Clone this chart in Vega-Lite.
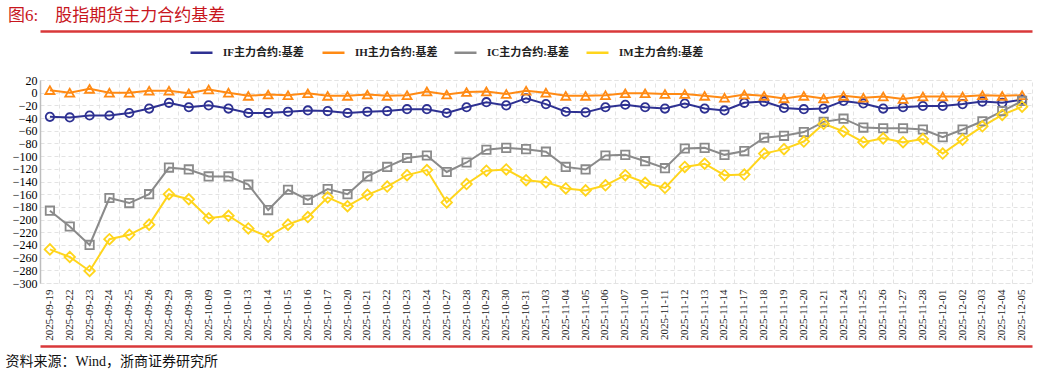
{
  "$schema": "https://vega.github.io/schema/vega-lite/v6.json",
  "width": 992,
  "height": 203,
  "autosize": "none",
  "padding": {"left": 40, "top": 80, "right": 25, "bottom": 91},
  "background": "white",
  "title": {
    "text": "图6:\u00a0\u00a0\u00a0\u00a0股指期货主力合约基差",
    "anchor": "start",
    "frame": "group",
    "dx": -32,
    "offset": 6,
    "color": "#C8161D",
    "fontSize": 17,
    "fontWeight": "normal",
    "font": "Liberation Serif, Noto Sans CJK SC"
  },
  "datasets": {
    "d": [
      {"date": "2025-09-19", "IF": -38, "IH": 4, "IC": -186, "IM": -247},
      {"date": "2025-09-22", "IF": -39, "IH": 0, "IC": -211, "IM": -259},
      {"date": "2025-09-23", "IF": -36, "IH": 6, "IC": -240, "IM": -281},
      {"date": "2025-09-24", "IF": -36, "IH": 0, "IC": -166, "IM": -231},
      {"date": "2025-09-25", "IF": -32, "IH": 0, "IC": -174, "IM": -224},
      {"date": "2025-09-26", "IF": -25, "IH": 3, "IC": -160, "IM": -208},
      {"date": "2025-09-29", "IF": -16, "IH": 3, "IC": -118, "IM": -160},
      {"date": "2025-09-30", "IF": -23, "IH": -1, "IC": -121, "IM": -168},
      {"date": "2025-10-09", "IF": -20, "IH": 5, "IC": -132, "IM": -198},
      {"date": "2025-10-10", "IF": -25, "IH": 0, "IC": -132, "IM": -194},
      {"date": "2025-10-13", "IF": -32, "IH": -5, "IC": -145, "IM": -214},
      {"date": "2025-10-14", "IF": -32, "IH": -3, "IC": -185, "IM": -227},
      {"date": "2025-10-15", "IF": -30, "IH": -4, "IC": -153, "IM": -208},
      {"date": "2025-10-16", "IF": -28, "IH": -1, "IC": -169, "IM": -196},
      {"date": "2025-10-17", "IF": -29, "IH": -5, "IC": -152, "IM": -165},
      {"date": "2025-10-20", "IF": -32, "IH": -5, "IC": -160, "IM": -179},
      {"date": "2025-10-21", "IF": -30, "IH": -3, "IC": -132, "IM": -161},
      {"date": "2025-10-22", "IF": -29, "IH": -5, "IC": -117, "IM": -148},
      {"date": "2025-10-23", "IF": -26, "IH": -4, "IC": -103, "IM": -130},
      {"date": "2025-10-24", "IF": -26, "IH": 2, "IC": -99, "IM": -122},
      {"date": "2025-10-27", "IF": -32, "IH": -3, "IC": -125, "IM": -173},
      {"date": "2025-10-28", "IF": -23, "IH": 1, "IC": -110, "IM": -144},
      {"date": "2025-10-29", "IF": -15, "IH": 2, "IC": -90, "IM": -123},
      {"date": "2025-10-30", "IF": -20, "IH": -2, "IC": -87, "IM": -121},
      {"date": "2025-10-31", "IF": -9, "IH": 3, "IC": -89, "IM": -138},
      {"date": "2025-11-03", "IF": -18, "IH": 0, "IC": -93, "IM": -141},
      {"date": "2025-11-04", "IF": -30, "IH": -5, "IC": -117, "IM": -151},
      {"date": "2025-11-05", "IF": -31, "IH": -5, "IC": -121, "IM": -154},
      {"date": "2025-11-06", "IF": -23, "IH": -4, "IC": -99, "IM": -146},
      {"date": "2025-11-07", "IF": -19, "IH": -1, "IC": -98, "IM": -130},
      {"date": "2025-11-10", "IF": -23, "IH": -1, "IC": -108, "IM": -142},
      {"date": "2025-11-11", "IF": -25, "IH": -2, "IC": -119, "IM": -150},
      {"date": "2025-11-12", "IF": -17, "IH": -2, "IC": -88, "IM": -117},
      {"date": "2025-11-13", "IF": -25, "IH": -5, "IC": -87, "IM": -112},
      {"date": "2025-11-14", "IF": -28, "IH": -8, "IC": -98, "IM": -130},
      {"date": "2025-11-17", "IF": -16, "IH": -3, "IC": -92, "IM": -129},
      {"date": "2025-11-18", "IF": -14, "IH": -5, "IC": -71, "IM": -96},
      {"date": "2025-11-19", "IF": -24, "IH": -9, "IC": -68, "IM": -89},
      {"date": "2025-11-20", "IF": -26, "IH": -5, "IC": -62, "IM": -77},
      {"date": "2025-11-21", "IF": -25, "IH": -9, "IC": -46, "IM": -49},
      {"date": "2025-11-24", "IF": -13, "IH": -5, "IC": -41, "IM": -61},
      {"date": "2025-11-25", "IF": -17, "IH": -8, "IC": -55, "IM": -78},
      {"date": "2025-11-26", "IF": -25, "IH": -6, "IC": -56, "IM": -72},
      {"date": "2025-11-27", "IF": -23, "IH": -10, "IC": -56, "IM": -78},
      {"date": "2025-11-28", "IF": -21, "IH": -6, "IC": -58, "IM": -73},
      {"date": "2025-12-01", "IF": -21, "IH": -6, "IC": -70, "IM": -96},
      {"date": "2025-12-02", "IF": -18, "IH": -6, "IC": -58, "IM": -74},
      {"date": "2025-12-03", "IF": -14, "IH": -4, "IC": -45, "IM": -53},
      {"date": "2025-12-04", "IF": -16, "IH": -5, "IC": -29, "IM": -35},
      {"date": "2025-12-05", "IF": -11, "IH": -4, "IC": -13, "IM": -22}
    ]
  },
  "config": {
    "view": {"stroke": "#E3E3E3", "strokeDash": [4, 3]},
    "font": "Liberation Serif, Noto Sans CJK SC",
    "axisY": {
      "labelOverlap": false,
      "tickCount": 40,
      "grid": true,
      "gridDash": [4, 3],
      "gridColor": "#E3E3E3",
      "ticks": false,
      "title": null,
      "domainColor": "#BDBDBD",
      "domainWidth": 1.5,
      "labelPadding": 3,
      "labelFont": "Liberation Serif",
      "labelFontSize": 12,
      "labelColor": "#000000"
    },
    "legend": {"symbolType": "stroke", "symbolStrokeWidth": 2.5, "symbolSize": 484}
  },
  "resolve": {"axis": {"x": "independent"}},
  "layer": [
    {
      "data": {"name": "d"},
      "transform": [{"fold": ["IF", "IH", "IC", "IM"], "as": ["series", "value"]}],
      "mark": {"type": "line", "strokeWidth": 2},
      "encoding": {
        "x": {
          "field": "date",
          "type": "nominal",
          "sort": null,
          "scale": {"type": "band", "paddingInner": 0, "paddingOuter": 0},
          "axis": {
            "orient": "bottom",
            "title": null,
            "domain": false,
            "ticks": false,
            "grid": false,
            "labelAngle": 270,
            "labelAlign": "right",
            "labelBaseline": "middle",
            "labelPadding": 6,
            "labelOverlap": false,
            "labelFont": "Liberation Serif",
            "labelFontSize": 11,
            "labelColor": "#222222"
          }
        },
        "y": {
          "field": "value",
          "type": "quantitative",
          "scale": {"domain": [-300, 20], "nice": false, "zero": false},
          "axis": {
            "values": [20, 0, -20, -40, -60, -80, -100, -120, -140, -160, -180, -200, -220, -240, -260, -280, -300],
            "tickCount": 40,
            "labelOverlap": false,
            "title": null
          }
        },
        "color": {
          "field": "series",
          "type": "nominal",
          "scale": {
            "domain": ["IF", "IH", "IC", "IM"],
            "range": ["#2E3192", "#FF8A14", "#8A8A8A", "#FFD51C"]
          },
          "legend": {
            "orient": "none",
            "direction": "horizontal",
            "legendX": 149,
            "legendY": -40,
            "title": null,
            "gridAlign": "all",
            "labelExpr": "datum.label + '主力合约:基差'",
            "labelFont": "Liberation Serif, Noto Sans CJK SC",
            "labelFontSize": 11,
            "labelFontWeight": "bold",
            "labelColor": "#222222",
            "labelOffset": 9,
            "columnPadding": 9
          }
        }
      }
    },
    {
      "mark": {"type": "rule", "color": "#BDBDBD", "strokeWidth": 2},
      "encoding": {
        "y": {"datum": 0, "type": "quantitative"}
      }
    },
    {
      "data": {"name": "d"},
      "mark": {"type": "point", "shape": "circle", "filled": false, "strokeWidth": 1.8, "size": 70, "color": "#2E3192", "opacity": 1},
      "encoding": {
        "x": {
          "field": "date",
          "type": "nominal",
          "sort": null,
          "axis": {
            "orient": "top",
            "offset": 49,
            "title": null,
            "labels": false,
            "ticks": false,
            "domainColor": "#D9383A",
            "domainWidth": 2.5,
            "grid": true,
            "bandPosition": 0,
            "gridDash": [4, 3],
            "gridColor": "#E3E3E3"
          }
        },
        "y": {"field": "IF", "type": "quantitative"}
      }
    },
    {
      "data": {"name": "d"},
      "mark": {"type": "point", "shape": "triangle-up", "filled": false, "strokeWidth": 1.8, "size": 80, "color": "#FF8A14", "opacity": 1},
      "encoding": {
        "x": {
          "field": "date",
          "type": "nominal",
          "sort": null,
          "axis": {
            "orient": "bottom",
            "offset": 63,
            "labels": false,
            "ticks": false,
            "grid": false,
            "domainColor": "#D9383A",
            "domainWidth": 2.5,
            "title": "资料来源：Wind，浙商证券研究所",
            "titleX": -35,
            "titleY": 15,
            "titleAlign": "left",
            "titleAnchor": "start",
            "titleBaseline": "middle",
            "titleFont": "Liberation Serif, Noto Sans CJK SC",
            "titleFontSize": 14,
            "titleFontWeight": "normal",
            "titleColor": "#111111"
          }
        },
        "y": {"field": "IH", "type": "quantitative"}
      }
    },
    {
      "data": {"name": "d"},
      "mark": {"type": "point", "shape": "square", "filled": false, "strokeWidth": 1.8, "size": 70, "color": "#8A8A8A", "opacity": 1},
      "encoding": {
        "x": {"field": "date", "type": "nominal", "sort": null, "axis": null},
        "y": {"field": "IC", "type": "quantitative"}
      }
    },
    {
      "data": {"name": "d"},
      "mark": {"type": "point", "shape": "diamond", "filled": false, "strokeWidth": 1.8, "size": 110, "color": "#FFD51C", "opacity": 1},
      "encoding": {
        "x": {"field": "date", "type": "nominal", "sort": null, "axis": null},
        "y": {"field": "IM", "type": "quantitative"}
      }
    }
  ]
}
